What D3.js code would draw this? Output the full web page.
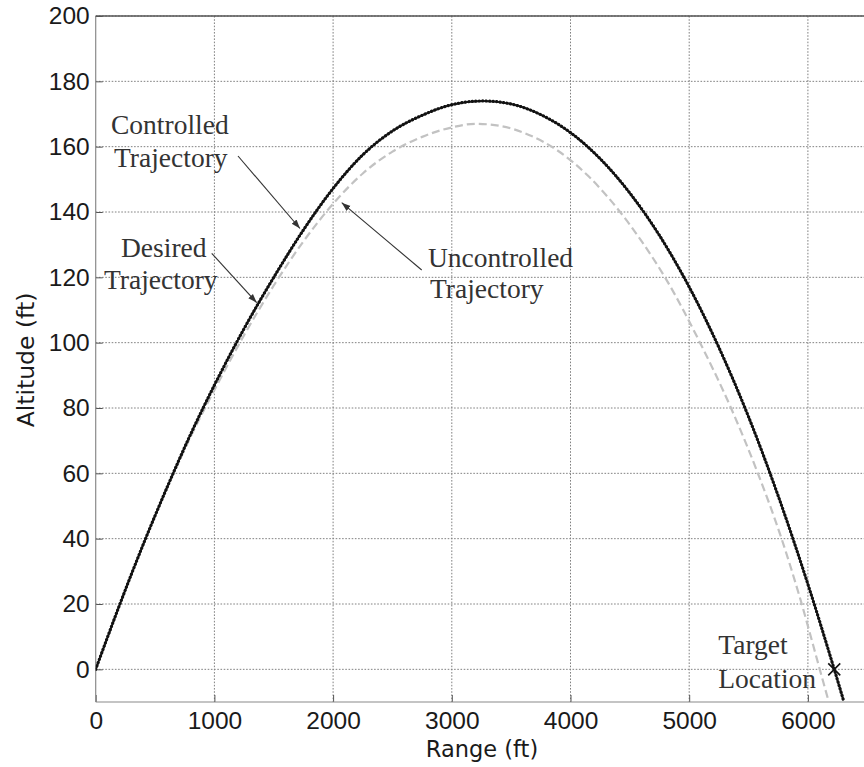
<!DOCTYPE html>
<html>
<head>
<meta charset="utf-8">
<script src="https://cdn.jsdelivr.net/npm/d3@7"></script>
<style>
  html, body { margin: 0; padding: 0; background: #fff; }
  svg { display: block; }
</style>
</head>
<body>
<svg id="chart" width="864" height="767"></svg>
<script>
// Range (ft) / altitude (ft) samples of the three trajectories
const rangeControlled = [0, 200, 400, 600, 800, 1000, 1250, 1500, 1750, 2000, 2250, 2500, 2750, 3000, 3263, 3500, 3750, 4000, 4250, 4500, 4750, 5000, 5250, 5500, 5750, 6000, 6222, 6300];
const altControlled   = [0, 19.6, 38.2, 55.6, 72, 87, 104.3, 120, 134.5, 147.2, 157.5, 164.8, 169.6, 172.85, 174, 173.05, 169.8, 164.3, 156.3, 145.8, 132.8, 117.05, 98.55, 77.3, 53.05, 26.05, 0, -9.5];

const rangeDesired = [0, 200, 400, 600, 800, 1000, 1250, 1500, 1750, 2000, 2250, 2500, 2750, 3000, 3263, 3500, 3750, 4000, 4250, 4500, 4750, 5000, 5250, 5500, 5750, 6000, 6222, 6300];
const altDesired   = [0, 19.6, 38.2, 55.6, 72, 87, 104.3, 120, 134.5, 147.2, 157.5, 164.8, 169.6, 172.85, 174, 173.05, 169.8, 164.3, 156.3, 145.8, 132.8, 117.05, 98.55, 77.3, 53.05, 26.05, 0, -9.5];

const rangeUncontrolled = [0, 200, 400, 600, 800, 1000, 1250, 1500, 1750, 2000, 2250, 2500, 2750, 3000, 3200, 3400, 3650, 3900, 4150, 4418, 4600, 4796, 5091, 5352, 5569, 5779, 5928, 6100, 6180];
const altUncontrolled   = [0, 19.6, 38.1, 55.3, 71.2, 85.5, 102.3, 117.5, 131, 142.5, 151.8, 158.5, 163, 165.9, 167, 166.4, 163.6, 158.6, 151, 140, 131, 120, 100, 80, 60.9, 39.9, 22.5, 0, -10.5];

const target = { range: 6222, alt: 0 };

const xTicks = [0, 1000, 2000, 3000, 4000, 5000, 6000];
const yTicks = [0, 20, 40, 60, 80, 100, 120, 140, 160, 180, 200];

const svg = d3.select("#chart");
const plotLeft = 95.7, plotTop = 16, plotBottom = 702;

const x = d3.scaleLinear().domain([0, 7000]).range([plotLeft, plotLeft + 118.7 * 7]);
const y = d3.scaleLinear().domain([-10, 200]).range([plotBottom, plotTop]);
const plotRight = x(7000);

const defs = svg.append("defs");
defs.append("clipPath").attr("id", "plot")
  .append("rect").attr("x", plotLeft).attr("y", plotTop)
  .attr("width", plotRight - plotLeft).attr("height", plotBottom - plotTop);

defs.append("marker")
  .attr("id", "head").attr("viewBox", "0 0 10 10").attr("refX", 10).attr("refY", 5)
  .attr("markerWidth", 9).attr("markerHeight", 9).attr("markerUnits", "userSpaceOnUse")
  .attr("orient", "auto")
  .append("path").attr("d", "M0,1.5 L10,5 L0,8.5 Z").attr("fill", "#333");

// dotted grid
const grid = svg.append("g").attr("stroke", "#808080").attr("stroke-width", 1)
  .attr("stroke-dasharray", "1.6,1.6");
grid.selectAll("line.v").data(xTicks.filter(d => d > 0)).join("line").attr("class", "v")
  .attr("x1", d => x(d)).attr("x2", d => x(d)).attr("y1", plotTop).attr("y2", plotBottom);
grid.selectAll("line.h").data(yTicks).join("line").attr("class", "h")
  .attr("x1", plotLeft).attr("x2", plotRight).attr("y1", d => y(d)).attr("y2", d => y(d));

// axes with inward ticks
const tickFont = "'Liberation Sans', Arial, Helvetica, sans-serif";
const gx = svg.append("g").attr("transform", `translate(0,${plotBottom})`)
  .call(d3.axisBottom(x).tickValues(xTicks).tickSize(-7).tickPadding(10).tickFormat(d3.format("d")));
const gy = svg.append("g").attr("transform", `translate(${plotLeft},0)`)
  .call(d3.axisLeft(y).tickValues(yTicks).tickSize(-7).tickPadding(6).tickFormat(d3.format("d")));
[gx, gy].forEach(g => {
  g.select(".domain").remove();
  g.selectAll(".tick line").attr("stroke", "#555").attr("stroke-width", 1);
  g.selectAll(".tick text").attr("font-family", tickFont).attr("font-size", 24.5).attr("fill", "#1a1a1a");
});

// frame: left, bottom, top
svg.append("line").attr("x1", plotLeft).attr("x2", plotLeft).attr("y1", plotTop).attr("y2", plotBottom)
  .attr("stroke", "#8a8a8a").attr("stroke-width", 1.2);
svg.append("line").attr("x1", plotLeft).attr("x2", plotRight).attr("y1", plotBottom).attr("y2", plotBottom)
  .attr("stroke", "#8a8a8a").attr("stroke-width", 1.2);
svg.append("line").attr("x1", plotLeft).attr("x2", plotRight).attr("y1", plotTop).attr("y2", plotTop)
  .attr("stroke", "#555").attr("stroke-width", 1.4);

// axis titles
const labelFont = "'DejaVu Sans', Verdana, sans-serif";
svg.append("text").attr("x", 482).attr("y", 757).attr("text-anchor", "middle")
  .attr("font-family", labelFont).attr("font-size", 22.5).attr("fill", "#1a1a1a").text("Range (ft)");
svg.append("text").attr("transform", "translate(34,360) rotate(-90)").attr("text-anchor", "middle")
  .attr("font-family", labelFont).attr("font-size", 23.5).attr("fill", "#1a1a1a").text("Altitude (ft)");

// trajectories
const line = d3.line().x(d => x(d[0])).y(d => y(d[1])).curve(d3.curveMonotoneX);
const plot = svg.append("g").attr("clip-path", "url(#plot)");

plot.append("path").datum(d3.zip(rangeUncontrolled, altUncontrolled))
  .attr("d", line).attr("fill", "none").attr("stroke", "#c2c2c2").attr("stroke-width", 2.2)
  .attr("stroke-dasharray", "8,4");
plot.append("path").datum(d3.zip(rangeControlled, altControlled))
  .attr("d", line).attr("fill", "none").attr("stroke", "#222").attr("stroke-width", 2);
plot.append("path").datum(d3.zip(rangeDesired, altDesired))
  .attr("d", line).attr("fill", "none").attr("stroke", "#111").attr("stroke-width", 3.2)
  .attr("stroke-linecap", "round").attr("stroke-dasharray", "0.1,3.4");

// target marker
const tx = x(target.range), ty = y(target.alt), s = 6;
svg.append("path").attr("d", `M${tx - s},${ty - s}L${tx + s},${ty + s}M${tx - s},${ty + s}L${tx + s},${ty - s}`)
  .attr("stroke", "#111").attr("stroke-width", 1.6).attr("fill", "none");

// annotations
const noteFont = "'Liberation Serif', 'Times New Roman', serif";
const notes = [
  { t: "Controlled", x: 111, y: 134 },
  { t: "Trajectory", x: 114, y: 167 },
  { t: "Desired", x: 121, y: 256.5 },
  { t: "Trajectory", x: 104, y: 289 },
  { t: "Uncontrolled", x: 428, y: 266.5 },
  { t: "Trajectory", x: 430, y: 297.5 },
  { t: "Target", x: 718.3, y: 654 },
  { t: "Location", x: 718.3, y: 687.5 }
];
svg.append("g").selectAll("text").data(notes).join("text")
  .attr("x", d => d.x).attr("y", d => d.y).text(d => d.t)
  .attr("font-family", noteFont).attr("font-size", 27.5).attr("fill", "#333");

const arrows = [
  { x1: 238, y1: 156, x2: 300, y2: 228.5 },
  { x1: 211.7, y1: 253.3, x2: 256.7, y2: 302.7 },
  { x1: 421.7, y1: 270, x2: 341.7, y2: 202.7 }
];
svg.append("g").selectAll("line").data(arrows).join("line")
  .attr("x1", d => d.x1).attr("y1", d => d.y1).attr("x2", d => d.x2).attr("y2", d => d.y2)
  .attr("stroke", "#333").attr("stroke-width", 1.1).attr("marker-end", "url(#head)");
</script>
</body>
</html>
